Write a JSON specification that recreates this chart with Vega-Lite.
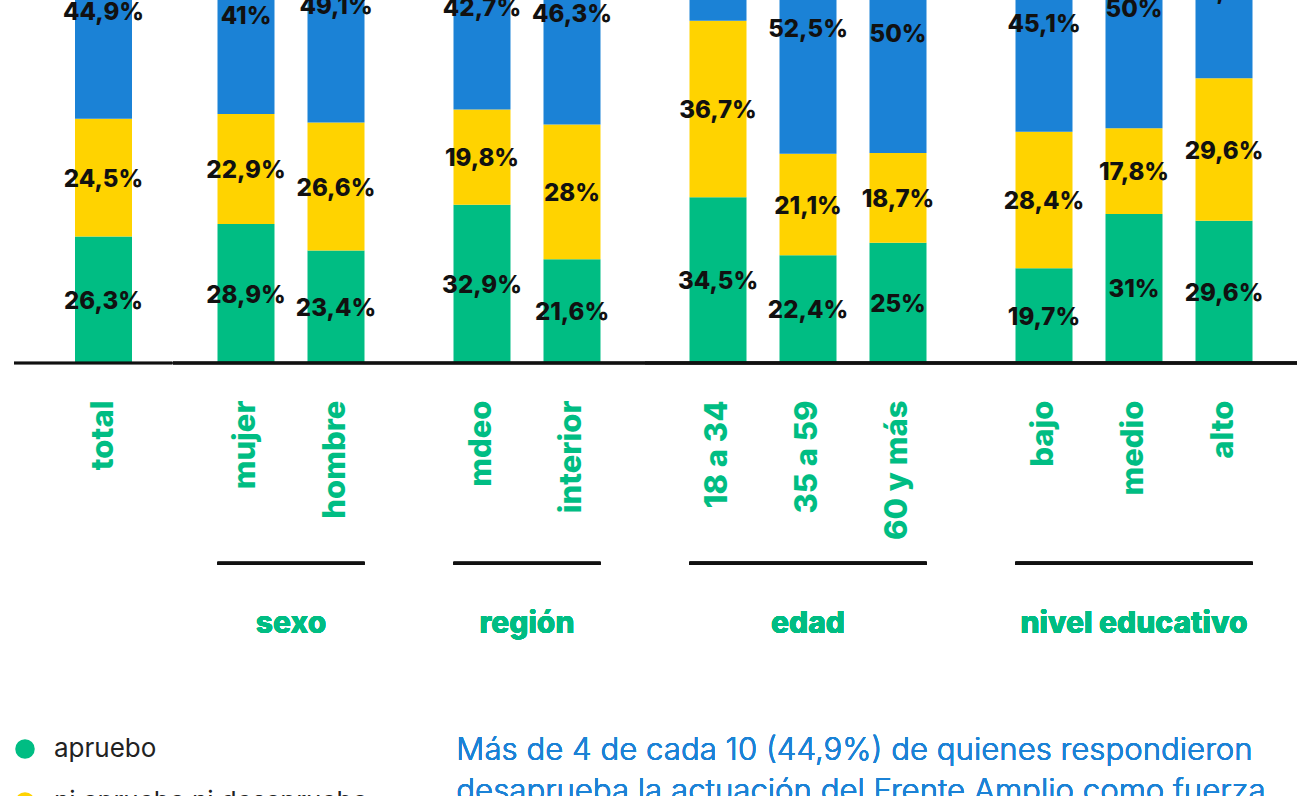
{
  "$schema": "https://vega.github.io/schema/vega-lite/v6.json",
  "padding": {"left": 12, "top": 0, "right": 0, "bottom": 0},
  "background": "white",
  "spacing": 0,
  "bounds": "flush",
  "config": {
    "view": {"stroke": null},
    "locale": {"number": {"decimal": ",", "thousands": ".", "grouping": [3], "currency": ["", " €"]}},
    "axisX": {"labelAngle": 270, "labelAlign": "right", "labelBaseline": "middle", "labelFontSize": 31, "labelFont": "Inter", "labelFontWeight": 800, "labelColor": "#00BD83", "labelPadding": 37, "ticks": false, "domain": false, "grid": false, "labelLimit": 0},
    "legend": {"padding": 0}
  },
  "resolve": {"scale": {"x": "independent", "y": "independent", "color": "shared"}},
  "data": {"values": [
    {"grupo": "total", "categoria": "total", "respuesta": "apruebo", "valor": 0.263},
    {"grupo": "total", "categoria": "total", "respuesta": "ni aprueba ni desaprueba", "valor": 0.245},
    {"grupo": "total", "categoria": "total", "respuesta": "desapruebo", "valor": 0.449},
    {"grupo": "sexo", "categoria": "mujer", "respuesta": "apruebo", "valor": 0.289},
    {"grupo": "sexo", "categoria": "mujer", "respuesta": "ni aprueba ni desaprueba", "valor": 0.229},
    {"grupo": "sexo", "categoria": "mujer", "respuesta": "desapruebo", "valor": 0.41},
    {"grupo": "sexo", "categoria": "hombre", "respuesta": "apruebo", "valor": 0.234},
    {"grupo": "sexo", "categoria": "hombre", "respuesta": "ni aprueba ni desaprueba", "valor": 0.266},
    {"grupo": "sexo", "categoria": "hombre", "respuesta": "desapruebo", "valor": 0.491},
    {"grupo": "región", "categoria": "mdeo", "respuesta": "apruebo", "valor": 0.329},
    {"grupo": "región", "categoria": "mdeo", "respuesta": "ni aprueba ni desaprueba", "valor": 0.198},
    {"grupo": "región", "categoria": "mdeo", "respuesta": "desapruebo", "valor": 0.427},
    {"grupo": "región", "categoria": "interior", "respuesta": "apruebo", "valor": 0.216},
    {"grupo": "región", "categoria": "interior", "respuesta": "ni aprueba ni desaprueba", "valor": 0.28},
    {"grupo": "región", "categoria": "interior", "respuesta": "desapruebo", "valor": 0.463},
    {"grupo": "edad", "categoria": "18 a 34", "respuesta": "apruebo", "valor": 0.345},
    {"grupo": "edad", "categoria": "18 a 34", "respuesta": "ni aprueba ni desaprueba", "valor": 0.367},
    {"grupo": "edad", "categoria": "18 a 34", "respuesta": "desapruebo", "valor": 0.247},
    {"grupo": "edad", "categoria": "35 a 59", "respuesta": "apruebo", "valor": 0.224},
    {"grupo": "edad", "categoria": "35 a 59", "respuesta": "ni aprueba ni desaprueba", "valor": 0.211},
    {"grupo": "edad", "categoria": "35 a 59", "respuesta": "desapruebo", "valor": 0.525},
    {"grupo": "edad", "categoria": "60 y más", "respuesta": "apruebo", "valor": 0.25},
    {"grupo": "edad", "categoria": "60 y más", "respuesta": "ni aprueba ni desaprueba", "valor": 0.187},
    {"grupo": "edad", "categoria": "60 y más", "respuesta": "desapruebo", "valor": 0.5},
    {"grupo": "nivel educativo", "categoria": "bajo", "respuesta": "apruebo", "valor": 0.197},
    {"grupo": "nivel educativo", "categoria": "bajo", "respuesta": "ni aprueba ni desaprueba", "valor": 0.284},
    {"grupo": "nivel educativo", "categoria": "bajo", "respuesta": "desapruebo", "valor": 0.451},
    {"grupo": "nivel educativo", "categoria": "medio", "respuesta": "apruebo", "valor": 0.31},
    {"grupo": "nivel educativo", "categoria": "medio", "respuesta": "ni aprueba ni desaprueba", "valor": 0.178},
    {"grupo": "nivel educativo", "categoria": "medio", "respuesta": "desapruebo", "valor": 0.5},
    {"grupo": "nivel educativo", "categoria": "alto", "respuesta": "apruebo", "valor": 0.296},
    {"grupo": "nivel educativo", "categoria": "alto", "respuesta": "ni aprueba ni desaprueba", "valor": 0.296},
    {"grupo": "nivel educativo", "categoria": "alto", "respuesta": "desapruebo", "valor": 0.367}
  ]},
  "hconcat": [
    {
      "width": 158.5, "height": 363,
      "transform": [{"filter": "datum.grupo == 'total'"}, {"calculate": "indexof(['apruebo','ni aprueba ni desaprueba','desapruebo'], datum.respuesta)", "as": "orden"}],
      "layer": [
        {"mark": {"type": "bar", "clip": true},
         "encoding": {
           "x": {"field": "categoria", "type": "nominal", "sort": null, "title": null, "scale": {"paddingInner": 0.3667, "paddingOuter": 0.5639, "align": 0.601}},
           "y": {"field": "valor", "type": "quantitative", "stack": "zero", "scale": {"domain": [0, 0.755], "nice": false}, "axis": null},
           "color": {"field": "respuesta", "type": "nominal", "scale": {"domain": ["apruebo", "ni aprueba ni desaprueba", "desapruebo"], "range": ["#00BD83", "#FFD300", "#1B82D6"]},
             "legend": {"orient": "none", "legendX": -2, "legendY": 736, "title": null, "symbolType": "circle", "symbolSize": 380, "symbolStrokeWidth": 0, "symbolOpacity": 1, "labelFontSize": 26, "labelFont": "Inter", "labelColor": "#222222", "labelOffset": 16, "rowPadding": 27, "labelLimit": 0}},
           "order": {"field": "orden"}
         }},
        {"mark": {"type": "text", "clip": true, "font": "Inter", "fontWeight": 800, "fontSize": 24, "color": "#111111", "baseline": "middle", "dy": 2},
         "encoding": {
           "x": {"field": "categoria", "type": "nominal", "sort": null},
           "y": {"field": "valor", "type": "quantitative", "stack": "zero", "bandPosition": 0.5},
           "text": {"field": "valor", "type": "quantitative", "format": ".1~%"},
           "order": {"field": "orden"}
         }},
        {"mark": {"type": "rule", "color": "#111111", "strokeWidth": 2.5}, "encoding": {"y": {"datum": 0}}}
      ]
    },
    {
      "width": 236, "height": 363,
      "transform": [{"filter": "datum.grupo == 'sexo'"}, {"calculate": "indexof(['apruebo','ni aprueba ni desaprueba','desapruebo'], datum.respuesta)", "as": "orden"}],
      "layer": [
        {"mark": {"type": "bar", "clip": true},
         "encoding": {
           "x": {"field": "categoria", "type": "nominal", "sort": null, "title": null, "scale": {"paddingInner": 0.3667, "paddingOuter": 0.4944}},
           "y": {"field": "valor", "type": "quantitative", "stack": "zero", "scale": {"domain": [0, 0.755], "nice": false}, "axis": null},
           "color": {"field": "respuesta", "type": "nominal", "scale": {"domain": ["apruebo", "ni aprueba ni desaprueba", "desapruebo"], "range": ["#00BD83", "#FFD300", "#1B82D6"]}},
           "order": {"field": "orden"}
         }},
        {"mark": {"type": "text", "clip": true, "font": "Inter", "fontWeight": 800, "fontSize": 24, "color": "#111111", "baseline": "middle", "dy": 2},
         "encoding": {
           "x": {"field": "categoria", "type": "nominal", "sort": null},
           "y": {"field": "valor", "type": "quantitative", "stack": "zero", "bandPosition": 0.5},
           "text": {"field": "valor", "type": "quantitative", "format": ".1~%"},
           "order": {"field": "orden"}
         }},
        {"mark": {"type": "rule", "color": "#111111", "strokeWidth": 2.5}, "encoding": {"y": {"datum": 0}}},
        {"mark": {"type": "rule", "color": "#111111", "strokeWidth": 3},
         "encoding": {"x": {"datum": "mujer", "bandPosition": 0}, "x2": {"datum": "hombre", "bandPosition": 1}, "y": {"datum": -0.4167}}},
        {"mark": {"type": "text", "text": "sexo", "font": "Inter", "fontWeight": 800, "fontSize": 30, "color": "#00BD83", "baseline": "middle", "align": "center"},
         "encoding": {"x": {"datum": "mujer", "bandPosition": 1.289}, "y": {"datum": -0.542}}}
      ]
    },
    {
      "width": 236, "height": 363,
      "transform": [{"filter": "datum.grupo == 'región'"}, {"calculate": "indexof(['apruebo','ni aprueba ni desaprueba','desapruebo'], datum.respuesta)", "as": "orden"}],
      "layer": [
        {"mark": {"type": "bar", "clip": true},
         "encoding": {
           "x": {"field": "categoria", "type": "nominal", "sort": null, "title": null, "scale": {"paddingInner": 0.3667, "paddingOuter": 0.4944}},
           "y": {"field": "valor", "type": "quantitative", "stack": "zero", "scale": {"domain": [0, 0.755], "nice": false}, "axis": null},
           "color": {"field": "respuesta", "type": "nominal", "scale": {"domain": ["apruebo", "ni aprueba ni desaprueba", "desapruebo"], "range": ["#00BD83", "#FFD300", "#1B82D6"]}},
           "order": {"field": "orden"}
         }},
        {"mark": {"type": "text", "clip": true, "font": "Inter", "fontWeight": 800, "fontSize": 24, "color": "#111111", "baseline": "middle", "dy": 2},
         "encoding": {
           "x": {"field": "categoria", "type": "nominal", "sort": null},
           "y": {"field": "valor", "type": "quantitative", "stack": "zero", "bandPosition": 0.5},
           "text": {"field": "valor", "type": "quantitative", "format": ".1~%"},
           "order": {"field": "orden"}
         }},
        {"mark": {"type": "rule", "color": "#111111", "strokeWidth": 2.5}, "encoding": {"y": {"datum": 0}}},
        {"mark": {"type": "rule", "color": "#111111", "strokeWidth": 3},
         "encoding": {"x": {"datum": "mdeo", "bandPosition": 0}, "x2": {"datum": "interior", "bandPosition": 1}, "y": {"datum": -0.4167}}},
        {"mark": {"type": "text", "text": "región", "font": "Inter", "fontWeight": 800, "fontSize": 30, "color": "#00BD83", "baseline": "middle", "align": "center"},
         "encoding": {"x": {"datum": "mdeo", "bandPosition": 1.289}, "y": {"datum": -0.542}}},
        {"mark": {"type": "text", "text": ["Más de 4 de cada 10 (44,9%) de quienes respondieron", "desaprueba la actuación del Frente Amplio como fuerza"], "font": "Inter", "fontWeight": 300, "fontSize": 31.2, "lineHeight": 41, "color": "#1B82D6", "baseline": "top", "align": "left"},
         "encoding": {"x": {"datum": "mdeo", "bandPosition": 0.05}, "y": {"datum": -0.774}}}
      ]
    },
    {
      "width": 326, "height": 363,
      "transform": [{"filter": "datum.grupo == 'edad'"}, {"calculate": "indexof(['apruebo','ni aprueba ni desaprueba','desapruebo'], datum.respuesta)", "as": "orden"}],
      "layer": [
        {"mark": {"type": "bar", "clip": true},
         "encoding": {
           "x": {"field": "categoria", "type": "nominal", "sort": null, "title": null, "scale": {"paddingInner": 0.3667, "paddingOuter": 0.4944}},
           "y": {"field": "valor", "type": "quantitative", "stack": "zero", "scale": {"domain": [0, 0.755], "nice": false}, "axis": null},
           "color": {"field": "respuesta", "type": "nominal", "scale": {"domain": ["apruebo", "ni aprueba ni desaprueba", "desapruebo"], "range": ["#00BD83", "#FFD300", "#1B82D6"]}},
           "order": {"field": "orden"}
         }},
        {"mark": {"type": "text", "clip": true, "font": "Inter", "fontWeight": 800, "fontSize": 24, "color": "#111111", "baseline": "middle", "dy": 2},
         "encoding": {
           "x": {"field": "categoria", "type": "nominal", "sort": null},
           "y": {"field": "valor", "type": "quantitative", "stack": "zero", "bandPosition": 0.5},
           "text": {"field": "valor", "type": "quantitative", "format": ".1~%"},
           "order": {"field": "orden"}
         }},
        {"mark": {"type": "rule", "color": "#111111", "strokeWidth": 2.5}, "encoding": {"y": {"datum": 0}}},
        {"mark": {"type": "rule", "color": "#111111", "strokeWidth": 3},
         "encoding": {"x": {"datum": "18 a 34", "bandPosition": 0}, "x2": {"datum": "60 y más", "bandPosition": 1}, "y": {"datum": -0.4167}}},
        {"mark": {"type": "text", "text": "edad", "font": "Inter", "fontWeight": 800, "fontSize": 30, "color": "#00BD83", "baseline": "middle", "align": "center"},
         "encoding": {"x": {"datum": "35 a 59", "bandPosition": 0.5}, "y": {"datum": -0.542}}}
      ]
    },
    {
      "width": 326, "height": 363,
      "transform": [{"filter": "datum.grupo == 'nivel educativo'"}, {"calculate": "indexof(['apruebo','ni aprueba ni desaprueba','desapruebo'], datum.respuesta)", "as": "orden"}],
      "layer": [
        {"mark": {"type": "bar", "clip": true},
         "encoding": {
           "x": {"field": "categoria", "type": "nominal", "sort": null, "title": null, "scale": {"paddingInner": 0.3667, "paddingOuter": 0.4944}},
           "y": {"field": "valor", "type": "quantitative", "stack": "zero", "scale": {"domain": [0, 0.755], "nice": false}, "axis": null},
           "color": {"field": "respuesta", "type": "nominal", "scale": {"domain": ["apruebo", "ni aprueba ni desaprueba", "desapruebo"], "range": ["#00BD83", "#FFD300", "#1B82D6"]}},
           "order": {"field": "orden"}
         }},
        {"mark": {"type": "text", "clip": true, "font": "Inter", "fontWeight": 800, "fontSize": 24, "color": "#111111", "baseline": "middle", "dy": 2},
         "encoding": {
           "x": {"field": "categoria", "type": "nominal", "sort": null},
           "y": {"field": "valor", "type": "quantitative", "stack": "zero", "bandPosition": 0.5},
           "text": {"field": "valor", "type": "quantitative", "format": ".1~%"},
           "order": {"field": "orden"}
         }},
        {"mark": {"type": "rule", "color": "#111111", "strokeWidth": 2.5}, "encoding": {"y": {"datum": 0}}},
        {"mark": {"type": "rule", "color": "#111111", "strokeWidth": 3},
         "encoding": {"x": {"datum": "bajo", "bandPosition": 0}, "x2": {"datum": "alto", "bandPosition": 1}, "y": {"datum": -0.4167}}},
        {"mark": {"type": "text", "text": "nivel educativo", "font": "Inter", "fontWeight": 800, "fontSize": 30, "color": "#00BD83", "baseline": "middle", "align": "center"},
         "encoding": {"x": {"datum": "medio", "bandPosition": 0.5}, "y": {"datum": -0.542}}}
      ]
    }
  ]
}
